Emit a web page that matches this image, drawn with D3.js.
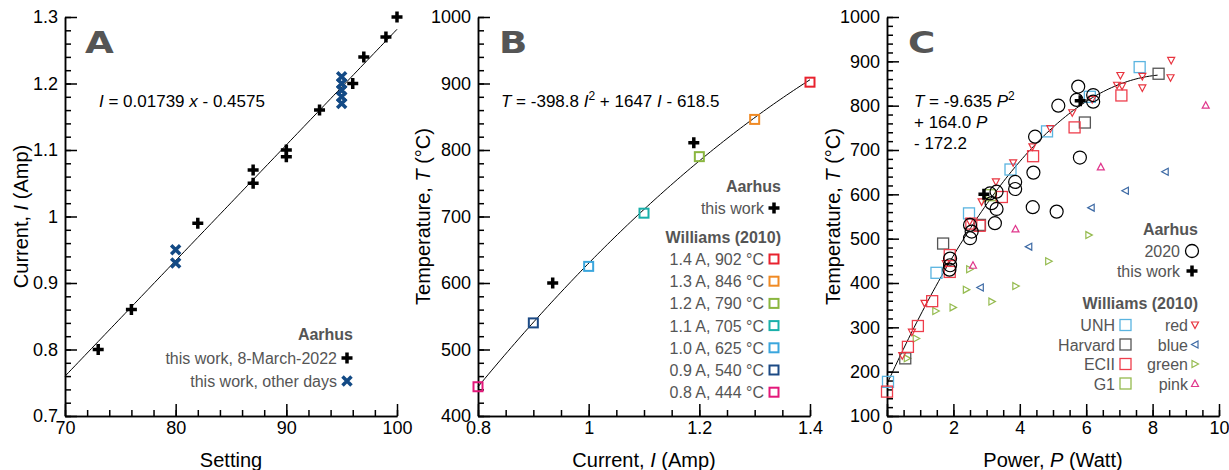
<!DOCTYPE html>
<meta charset='utf-8'>
<head>
    <title>Calibration</title>
    <script src='https://d3js.org/d3.v7.min.js'></script>
</head>

<style>
    body { margin: 0; background: white; }
    svg { font-family: 'Liberation Sans', Arial, sans-serif; }
    .axis path, .axis line { stroke: black; stroke-width: 1.5px; }
    .axis text { font-size: 18px; fill: black; font-family: 'Liberation Sans', Arial, sans-serif; }
    .title { font-size: 20px; fill: black; }
    .eq { font-size: 17px; fill: black; }
    .leg { font-size: 16px; fill: #555; }
    .legh { font-size: 16px; fill: #555; font-weight: bold; }
    .letter { font-size: 31px; font-weight: 900; fill: #555; font-family: 'DejaVu Sans', sans-serif; }
</style>

<svg width='1229' height='470'></svg>

<script>
    // ---- panel A: setting vs current
    var aSetting = [73, 76, 82, 87, 87, 90, 90, 93, 96, 97, 99, 100];
    var aCurrent = [0.80, 0.86, 0.99, 1.07, 1.05, 1.10, 1.09, 1.16, 1.20, 1.24, 1.27, 1.30];
    var aOtherSetting = [80, 80, 95, 95, 95, 95, 95];
    var aOtherCurrent = [0.95, 0.93, 1.21, 1.20, 1.19, 1.18, 1.17];
    var aFit = [0.01739, -0.4575]; // slope, intercept

    // ---- panel B: current vs temperature
    var bLabels = ['1.4 A, 902 °C', '1.3 A, 846 °C', '1.2 A, 790 °C', '1.1 A, 705 °C', '1.0 A,  625 °C', '0.9 A, 540 °C', '0.8 A, 444 °C'];
    var bCurrent = [1.4, 1.3, 1.2, 1.1, 1.0, 0.9, 0.8];
    var bTemp = [902, 846, 790, 705, 625, 540, 444];
    var bColors = ['#e8222e', '#f08a24', '#8ab63f', '#1ab0aa', '#3aa6dd', '#1c4a85', '#e3187a'];
    var bWorkCurrent = [0.935, 1.19];
    var bWorkTemp = [600, 811];
    var bFit = [-398.8, 1647, -618.5];

    // ---- panel C: power vs temperature
    var c2020P = [5.76, 5.16, 5.71, 6.21, 6.21, 4.46, 5.81, 4.41, 3.86, 3.86, 4.39, 5.11, 3.10, 3.15, 3.30, 3.30, 3.25, 2.50, 2.55, 2.50, 1.90, 1.90, 1.88];
    var c2020T = [843, 800, 813, 824, 809, 730, 683, 649, 628, 612, 571, 561, 602, 580, 606, 567, 535, 531, 516, 501, 455, 440, 430];
    var cWorkP = [2.92, 5.82];
    var cWorkT = [600, 811];
    var unhP = [7.61, 4.82, 3.72, 2.47, 1.49, 0.03, 6.11];
    var unhT = [887, 742, 656, 557, 423, 177, 820];
    var harvP = [8.18, 5.96, 1.69, 0.55, 2.80];
    var harvT = [872, 762, 489, 230, 531];
    var eciiP = [7.06, 5.65, 4.40, 3.46, 2.79, 2.54, 1.89, 1.89, 1.36, 0.93, 0.63, 0.00];
    var eciiT = [823, 751, 686, 594, 529, 534, 463, 425, 359, 303, 256, 155];
    var g1P = [3.1];
    var g1T = [598];
    var redP = [8.56, 8.54, 7.69, 7.69, 7.03, 6.93, 7.08, 6.18, 5.58, 4.92, 4.38, 3.80, 3.28, 2.85, 2.49, 1.77, 1.13, 0.75, 0.46];
    var redT = [902, 863, 866, 840, 868, 846, 844, 814, 784, 748, 707, 671, 628, 583, 538, 444, 354, 289, 236];
    var blueP = [8.38, 7.18, 6.15, 4.27, 2.81];
    var blueT = [651, 608, 570, 482, 390];
    var greenP = [6.08, 4.87, 3.88, 3.16, 2.39, 2.49, 1.99, 1.47, 0.88, 0.61, 2.99];
    var greenT = [508, 449, 393, 358, 385, 431, 345, 337, 275, 230, 590];
    var pinkP = [9.60, 6.44, 3.87, 2.59];
    var pinkT = [801, 662, 522, 440];
    var cFit = [-9.635, 164.0, 172.2];

    var svg = d3.select('svg');
    var yTop = 17, yBottom = 416;

    var crossPath = 'M-5.5,0H5.5M0,-5.5V5.5';
    var xPath = 'M-4.5,-4.5L4.5,4.5M-4.5,4.5L4.5,-4.5';
    var tri = {
        down: 'M-3.5,-3L3.5,-3L0,3.5Z',
        left: 'M3,-3.5L3,3.5L-3.5,0Z',
        right: 'M-3,-3.5L-3,3.5L3.5,0Z',
        up: 'M-3.5,3L3.5,3L0,-3.5Z'
    };

    function fmt(d) { return String(+d.toFixed(3)); }

    // axes with inward major + minor ticks
    function panel(x0, x1, xDom, yDom, xMajor, xMinor, yMajor, yMinor) {
        var x = d3.scaleLinear().domain(xDom).range([x0, x1]);
        var y = d3.scaleLinear().domain(yDom).range([yBottom, yTop]);
        var g = svg.append('g');
        g.append('g').attr('class', 'axis').attr('transform', 'translate(0,' + yBottom + ')')
            .call(d3.axisBottom(x).tickValues(xMinor).tickSize(-6).tickFormat('').tickSizeOuter(0));
        g.append('g').attr('class', 'axis').attr('transform', 'translate(0,' + yBottom + ')')
            .call(d3.axisBottom(x).tickValues(xMajor).tickSize(-12).tickPadding(5).tickFormat(fmt).tickSizeOuter(0));
        g.append('g').attr('class', 'axis').attr('transform', 'translate(' + x0 + ',0)')
            .call(d3.axisLeft(y).tickValues(yMinor).tickSize(-6).tickFormat('').tickSizeOuter(0));
        g.append('g').attr('class', 'axis').attr('transform', 'translate(' + x0 + ',0)')
            .call(d3.axisLeft(y).tickValues(yMajor).tickSize(-12).tickPadding(7).tickFormat(fmt).tickSizeOuter(0));
        return {x: x, y: y, g: g};
    }

    function range(a, b, s) { return d3.range(Math.round((b - a) / s) + 1).map(function (i) { return +(a + i * s).toFixed(4); }); }

    function marks(p, xs, ys, d, opt) {
        p.g.selectAll(null).data(xs).enter().append('path')
            .attr('d', d)
            .attr('transform', function (v, i) { return 'translate(' + p.x(v) + ',' + p.y(ys[i]) + ')'; })
            .attr('fill', opt.fill || 'none').attr('stroke', opt.stroke).attr('stroke-width', opt.sw);
    }
    function squares(p, xs, ys, s, color, sw) {
        p.g.selectAll(null).data(xs).enter().append('rect')
            .attr('x', function (v) { return p.x(v) - s / 2; })
            .attr('y', function (v, i) { return p.y(ys[i]) - s / 2; })
            .attr('width', s).attr('height', s)
            .attr('fill', 'none').attr('stroke', color).attr('stroke-width', sw);
    }
    function curve(p, f, a, b) {
        var pts = d3.range(0, 101).map(function (i) { var v = a + (b - a) * i / 100; return [v, f(v)]; });
        p.g.append('path').attr('d', d3.line().x(function (d) { return p.x(d[0]); }).y(function (d) { return p.y(d[1]); })(pts))
            .attr('fill', 'none').attr('stroke', 'black').attr('stroke-width', 1);
    }
    function ytitle(cx, parts) {
        var t = svg.append('text').attr('class', 'title').attr('text-anchor', 'middle')
            .attr('transform', 'translate(' + cx + ',' + ((yTop + yBottom) / 2) + ') rotate(-90)');
        parts.forEach(function (q) { t.append('tspan').text(q[0]).attr('font-style', q[1] ? 'italic' : null); });
    }
    function xtitle(cx, parts) {
        var t = svg.append('text').attr('class', 'title').attr('text-anchor', 'middle').attr('x', cx).attr('y', 467);
        parts.forEach(function (q) { t.append('tspan').text(q[0]).attr('font-style', q[1] ? 'italic' : null); });
    }
    function eq(x, yb, parts) {
        var t = svg.append('text').attr('class', 'eq').attr('x', x).attr('y', yb);
        parts.forEach(function (q) {
            var s = t.append('tspan').text(q[0]);
            if (q[1] === 'i') s.attr('font-style', 'italic');
            if (q[1] === 'sup') s.attr('font-size', '12px').attr('dy', -7);
            if (q[1] === 'after') s.attr('dy', 7);
        });
    }
    function txt(x, y, s, cls) {
        svg.append('text').attr('class', cls).attr('x', x).attr('y', y).attr('text-anchor', 'end').text(s);
    }
    function letter(x, s) {
        svg.append('text').attr('class', 'letter')
            .attr('transform', 'translate(' + x + ',53) scale(1.2,1)').text(s);
    }

    // ======== A
    var pA = panel(65, 397, [70, 100], [0.7, 1.3], [70, 80, 90, 100], range(70, 100, 2), range(0.7, 1.3, 0.1), range(0.7, 1.3, 0.02));
    curve(pA, function (v) { return aFit[0] * v + aFit[1]; }, 70, 100);
    marks(pA, aOtherSetting, aOtherCurrent, xPath, {stroke: '#134a85', sw: 3.5});
    marks(pA, aSetting, aCurrent, crossPath, {stroke: 'black', sw: 3.5});
    letter(85, 'A');
    eq(99, 107, [['I', 'i'], [' = 0.01739 '], ['x', 'i'], [' - 0.4575']]);
    ytitle(28, [['Current, '], ['I', 1], [' (Amp)']]);
    xtitle(231, [['Setting']]);
    txt(353, 340, 'Aarhus', 'legh');
    txt(337, 364, 'this work, 8-March-2022', 'leg');
    txt(337, 387, 'this work, other days', 'leg');
    svg.append('path').attr('d', crossPath).attr('transform', 'translate(347,358)').attr('stroke', 'black').attr('stroke-width', 3.5);
    svg.append('path').attr('d', xPath).attr('transform', 'translate(347,381)').attr('stroke', '#134a85').attr('stroke-width', 3.5);

    // ======== B
    var pB = panel(478, 810, [0.8, 1.4], [400, 1000], [0.8, 1, 1.2, 1.4], range(0.8, 1.4, 0.05), range(400, 1000, 100), range(400, 1000, 20));
    curve(pB, function (v) { return bFit[0] * v * v + bFit[1] * v + bFit[2]; }, 0.8, 1.4);
    bCurrent.forEach(function (v, i) { squares(pB, [v], [bTemp[i]], 9, bColors[i], 2); });
    marks(pB, bWorkCurrent, bWorkTemp, crossPath, {stroke: 'black', sw: 3.5});
    letter(499, 'B');
    eq(501, 107, [['T', 'i'], [' = -398.8 '], ['I', 'i'], ['2', 'sup'], [' + 1647 ', 'after'], ['I', 'i'], [' - 618.5']]);
    ytitle(430, [['Temperature, '], ['T', 1], [' (°C)']]);
    xtitle(644, [['Current, '], ['I', 1], [' (Amp)']]);
    txt(781, 192, 'Aarhus', 'legh');
    txt(764, 214, 'this work', 'leg');
    svg.append('path').attr('d', crossPath).attr('transform', 'translate(774,208)').attr('stroke', 'black').attr('stroke-width', 3.5);
    txt(781, 243, 'Williams (2010)', 'legh');
    bLabels.forEach(function (s, i) {
        var yy = 259 + i * 22.2;
        txt(764, yy + 6, s, 'leg');
        svg.append('rect').attr('x', 769.5).attr('y', yy - 4.5).attr('width', 9).attr('height', 9)
            .attr('fill', 'none').attr('stroke', bColors[i]).attr('stroke-width', 2);
    });

    // ======== C
    var pC = panel(887, 1219, [0, 10], [100, 1000], [0, 2, 4, 6, 8, 10], range(0, 10, 0.5), range(100, 1000, 100), range(100, 1000, 20));
    curve(pC, function (v) { return cFit[0] * v * v + cFit[1] * v + cFit[2]; }, 0, 8.15);
    var cols = {unh: '#5ab4e0', harv: '#555555', ecii: '#ee3e4c', g1: '#95bb4f', red: '#e8343f', blue: '#3d6aa5', green: '#95bb4f', pink: '#e0368c'};
    marks(pC, greenP, greenT, tri.right, {stroke: cols.green, sw: 1.2});
    marks(pC, blueP, blueT, tri.left, {stroke: cols.blue, sw: 1.2});
    marks(pC, pinkP, pinkT, tri.up, {stroke: cols.pink, sw: 1.2});
    squares(pC, g1P, g1T, 11, cols.g1, 1.3);
    squares(pC, unhP, unhT, 11, cols.unh, 1.3);
    squares(pC, harvP, harvT, 11, cols.harv, 1.3);
    squares(pC, eciiP, eciiT, 11, cols.ecii, 1.3);
    marks(pC, redP, redT, tri.down, {stroke: cols.red, sw: 1.2});
    pC.g.selectAll(null).data(c2020P).enter().append('circle')
        .attr('cx', function (v) { return pC.x(v); }).attr('cy', function (v, i) { return pC.y(c2020T[i]); })
        .attr('r', 6.5).attr('fill', 'none').attr('stroke', 'black').attr('stroke-width', 1.2);
    marks(pC, cWorkP, cWorkT, crossPath, {stroke: 'black', sw: 3.5});
    letter(908, 'C');
    eq(914, 107, [['T', 'i'], [' = -9.635 '], ['P', 'i'], ['2', 'sup']]);
    eq(914, 128, [['+ 164.0 '], ['P', 'i']]);
    eq(914, 149, [['- 172.2']]);
    ytitle(840, [['Temperature, '], ['T', 1], [' (°C)']]);
    xtitle(1053, [['Power, '], ['P', 1], [' (Watt)']]);
    txt(1198, 235, 'Aarhus', 'legh');
    txt(1180, 257, '2020', 'leg');
    svg.append('circle').attr('cx', 1192).attr('cy', 251).attr('r', 6.5).attr('fill', 'none').attr('stroke', 'black').attr('stroke-width', 1.3);
    txt(1180, 277, 'this work', 'leg');
    svg.append('path').attr('d', crossPath).attr('transform', 'translate(1192,271)').attr('stroke', 'black').attr('stroke-width', 3.5);
    txt(1198, 309, 'Williams (2010)', 'legh');
    var legSq = [['UNH', cols.unh], ['Harvard', cols.harv], ['ECII', cols.ecii], ['G1', cols.g1]];
    var legTri = [['red', cols.red, tri.down], ['blue', cols.blue, tri.left], ['green', cols.green, tri.right], ['pink', cols.pink, tri.up]];
    legSq.forEach(function (q, i) {
        var yy = 325 + i * 19.5;
        txt(1115, yy + 6, q[0], 'leg');
        svg.append('rect').attr('x', 1120).attr('y', yy - 5.5).attr('width', 11).attr('height', 11)
            .attr('fill', 'none').attr('stroke', q[1]).attr('stroke-width', 1.3);
        txt(1188, yy + 6, legTri[i][0], 'leg');
        svg.append('path').attr('d', legTri[i][2]).attr('transform', 'translate(1195,' + yy + ')')
            .attr('fill', 'none').attr('stroke', legTri[i][1]).attr('stroke-width', 1.2);
    });
</script>
